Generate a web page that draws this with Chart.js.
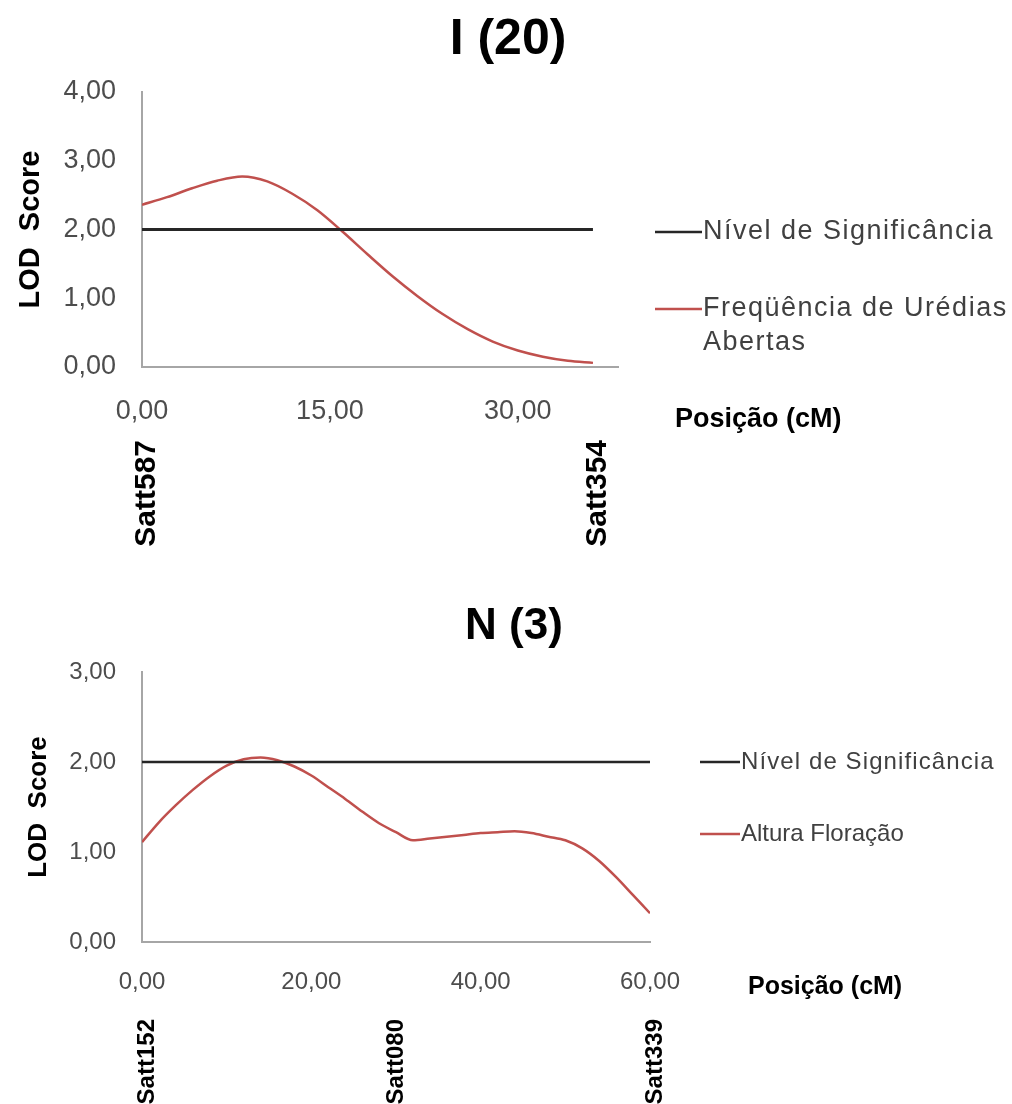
<!DOCTYPE html>
<html>
<head>
<meta charset="utf-8">
<script src="https://cdn.jsdelivr.net/npm/chart.js@4.4.0/dist/chart.umd.min.js"></script>
<style>
  body { margin: 0; background: #fff; }
  #wrap { position: relative; width: 1012px; height: 1104px; overflow: hidden; }
  canvas { position: absolute; left: 0; }
</style>
</head>
<body>
<div id="wrap">
  <canvas id="chartI" width="1012" height="560" style="top:0"></canvas>
  <canvas id="chartN" width="1012" height="544" style="top:560px"></canvas>
</div>
<script>
// --- data: linkage group I (20)
const topPos = [0, 2, 4, 6, 8, 10, 12, 14, 16, 18, 20, 22, 24, 26, 28, 30, 32, 34, 36];
const topLod = [2.36, 2.47, 2.60, 2.71, 2.77, 2.70, 2.52, 2.28, 1.97, 1.64, 1.32, 1.03, 0.77, 0.55, 0.37, 0.24, 0.15, 0.09, 0.06];
const topSigPos = [0, 36];
const topXTicks = [0, 15, 30];
const topMarkerPos = [0, 36];
const topMarkerNames = ['Satt587', 'Satt354'];
const topSeries = ['Nível de Significância', 'Freqüência de Urédias Abertas'];

// --- data: linkage group N (3)
const botPos = [0, 2, 4, 6, 8, 10, 12, 14, 16, 18, 20, 22, 24, 26, 28, 30, 32, 34, 36, 38, 40, 42, 44, 46, 48, 50, 52, 54, 56, 58, 60];
const botLod = [1.11, 1.33, 1.52, 1.69, 1.84, 1.96, 2.03, 2.05, 2.02, 1.95, 1.85, 1.72, 1.59, 1.45, 1.32, 1.22, 1.13, 1.15, 1.17, 1.19, 1.21, 1.22, 1.23, 1.21, 1.17, 1.13, 1.04, 0.90, 0.72, 0.52, 0.32];
const botSigPos = [0, 60];
const botXTicks = [0, 20, 40, 60];
const botMarkerPos = [0, 29.5, 60];
const botMarkerNames = ['Satt152', 'Satt080', 'Satt339'];
const botSeries = ['Nível de Significância', 'Altura Floração'];

const SIG_LEVEL = 2;
const FONT = '"Liberation Sans", Arial, sans-serif';

function fmt(v) { return Number(v).toFixed(2).replace('.', ','); }

function wrap(ctx, text, maxW) {
  const words = text.split(' ');
  const lines = [];
  let cur = '';
  words.forEach(w => {
    const t = cur ? cur + ' ' + w : w;
    if (cur && ctx.measureText(t).width > maxW) { lines.push(cur); cur = w; } else { cur = t; }
  });
  if (cur) lines.push(cur);
  return lines;
}

// title, legend and the x axis caption sit in odd places, so draw them here
const extras = {
  id: 'extras',
  afterDraw(chart, args, o) {
    const c = chart.ctx;
    c.save();
    c.fillStyle = '#000';
    c.textAlign = 'center';
    c.textBaseline = 'middle';
    c.font = 'bold ' + o.titleSize + 'px ' + FONT;
    c.fillText(o.title, o.titleX, o.titleY);

    c.textAlign = 'left';
    c.font = 'bold ' + o.xLabelSize + 'px ' + FONT;
    c.fillText('Posição (cM)', o.xLabelX, o.xLabelY);

    c.font = o.legSize + 'px ' + FONT;
    chart.data.datasets.forEach((ds, i) => {
      const y = o.legY[i];
      c.strokeStyle = ds.borderColor;
      c.lineWidth = 2.5;
      c.beginPath();
      c.moveTo(o.legX0, y);
      c.lineTo(o.legX1, y);
      c.stroke();
      c.fillStyle = '#404040';
      c.letterSpacing = o.legSpacing[i] + 'px';
      wrap(c, ds.label, o.legMaxW).forEach((t, k) => c.fillText(t, o.legX1 + 1, y + k * o.legLine));
    });
    c.restore();
  }
};

function buildChart(id, d) {
  const axisGray = '#a6a6a6';
  return new Chart(document.getElementById(id), {
    type: 'line',
    data: {
      datasets: [
        {
          label: d.series[0],
          data: d.sigPos.map(x => ({ x: x, y: SIG_LEVEL })),
          borderColor: '#262626',
          borderWidth: d.sigWidth,
          pointRadius: 0,
          tension: 0
        },
        {
          label: d.series[1],
          data: d.pos.map((x, i) => ({ x: x, y: d.lod[i] })),
          borderColor: '#c0504d',
          borderWidth: 2.5,
          pointRadius: 0,
          cubicInterpolationMode: 'monotone'
        }
      ]
    },
    options: {
      responsive: false,
      animation: false,
      devicePixelRatio: 1,
      layout: { padding: { top: d.top, right: d.right, left: 0, bottom: 0 } },
      plugins: {
        legend: { display: false },
        tooltip: { enabled: false },
        extras: d.extras
      },
      scales: {
        x: {
          type: 'linear', position: 'bottom', min: 0, max: d.xMax, weight: 0,
          afterBuildTicks: s => { s.ticks = d.xTicks.map(v => ({ value: v })); },
          afterFit: s => { s.height = d.xH; },
          grid: { display: false, drawTicks: false },
          border: { color: axisGray, width: 2 },
          ticks: {
            callback: v => fmt(v), color: '#4d4d4d', autoSkip: false, maxRotation: 0,
            font: { family: FONT, size: d.xTickSize }, padding: d.xPad
          }
        },
        markers: {
          type: 'linear', position: 'bottom', min: 0, max: d.xMax, weight: 1,
          afterBuildTicks: s => { s.ticks = d.markerPos.map(v => ({ value: v })); },
          afterFit: s => { s.height = d.mH; },
          grid: { display: false, drawTicks: false },
          border: { display: false },
          ticks: {
            callback: (v, i) => d.markerNames[i], color: '#000', autoSkip: false,
            minRotation: 90, maxRotation: 90, labelOffset: 5,
            font: { family: FONT, size: d.markerSize, weight: 'bold' }, padding: d.mPad
          }
        },
        y: {
          min: 0, max: d.yMax,
          afterFit: s => { s.width = 142; },
          grid: { display: false, drawTicks: false },
          border: { color: axisGray, width: 2 },
          ticks: {
            stepSize: 1, callback: v => fmt(v), color: '#4d4d4d',
            font: { family: FONT, size: d.yTickSize }, padding: 26
          },
          title: {
            display: true, text: 'LOD  Score', color: '#000',
            font: { family: FONT, size: d.yTitleSize, weight: 'bold' },
            padding: { top: d.yTitlePad, bottom: 0 }
          }
        }
      }
    },
    plugins: [extras]
  });
}

buildChart('chartI', {
  pos: topPos, lod: topLod, sigPos: topSigPos, series: topSeries,
  xTicks: topXTicks, markerPos: topMarkerPos, markerNames: topMarkerNames,
  xMax: 38, yMax: 4, top: 92, right: 394, xH: 60, mH: 133, xPad: 28, mPad: 13,
  xTickSize: 27, yTickSize: 27, markerSize: 30, yTitleSize: 29, yTitlePad: 14, sigWidth: 3,
  extras: {
    title: 'I (20)', titleSize: 50, titleX: 508, titleY: 40,
    xLabelSize: 27, xLabelX: 675, xLabelY: 420,
    legSize: 27, legSpacing: [1.5, 1.5], legX0: 655, legX1: 702, legY: [232, 309], legLine: 34, legMaxW: 330
  }
});

buildChart('chartN', {
  pos: botPos, lod: botLod, sigPos: botSigPos, series: botSeries,
  xTicks: botXTicks, markerPos: botMarkerPos, markerNames: botMarkerNames,
  xMax: 60, yMax: 3, top: 112, right: 362, xH: 60, mH: 102, xPad: 26, mPad: 17,
  xTickSize: 24, yTickSize: 24, markerSize: 24, yTitleSize: 26, yTitlePad: 23, sigWidth: 2.5,
  extras: {
    title: 'N (3)', titleSize: 44, titleX: 514, titleY: 67,
    xLabelSize: 25, xLabelX: 748, xLabelY: 427,
    legSize: 24, legSpacing: [1.1, 0], legX0: 700, legX1: 740, legY: [202, 274], legLine: 32, legMaxW: 270
  }
});
</script>
</body>
</html>
